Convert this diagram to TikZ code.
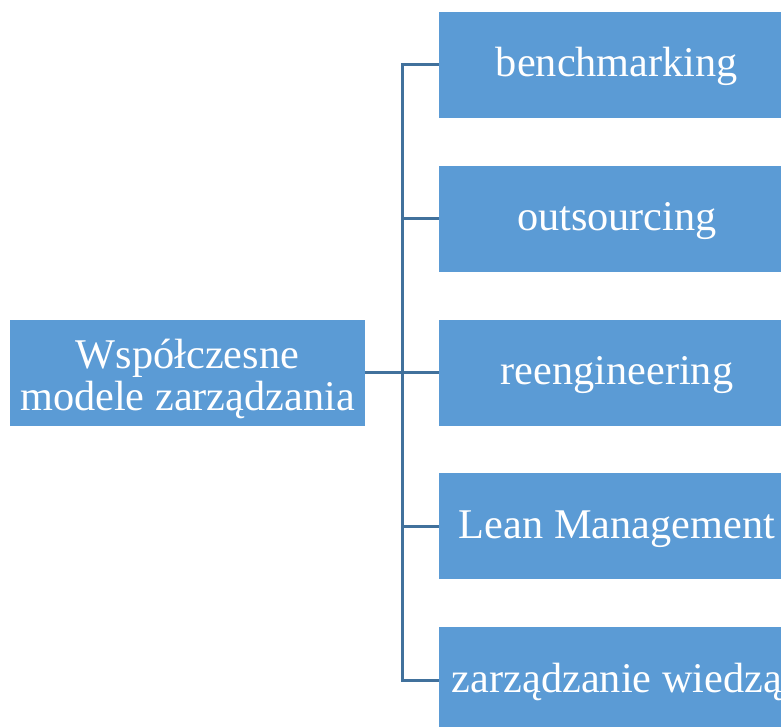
\documentclass[tikz,border=0pt]{standalone}
\usepackage{fontspec}
\setmainfont{Liberation Serif}
\usetikzlibrary{positioning,calc}

\definecolor{boxblue}{HTML}{5B9BD5}
\definecolor{lineblue}{HTML}{41719C}

\begin{document}
\begin{tikzpicture}[x=1pt,y=1pt,
    modelbox/.style={rectangle, fill=boxblue, text=white, align=center, inner sep=0pt,
        minimum width=355pt, minimum height=106pt, text height=29pt, text depth=5.5pt,
        font=\fontsize{42.3}{42}\selectfont},
    branch/.style={draw=lineblue, line width=2.6pt},
    node distance=47.5pt]
        \useasboundingbox (0,0) rectangle (781,-726);
        % Nodes
        \node [modelbox,text height=75pt,text depth=0pt] (models) at (187.5,-372.5) {Współczesne\\modele zarządzania};
        \node [modelbox,right=74pt of models] (reeng) {reengineering};
        \node [modelbox,above=of reeng] (outs) {outsourcing};
        \node [modelbox,above=of outs] (bench) {benchmarking};
        \node [modelbox,below=of reeng] (lean) {Lean Management};
        \node [modelbox,below=of lean] (knowledge) {zarządzanie wiedzą};

        \coordinate (trunk) at ($(models.east)!0.5!(reeng.west)$);

        % Connectors
        \draw [branch] (models.east) -- (reeng.west);
        \draw [branch] (trunk) |- (bench.west);
        \draw [branch] (trunk) |- (outs.west);
        \draw [branch] (trunk) |- (lean.west);
        \draw [branch] (trunk) |- (knowledge.west);
\end{tikzpicture}
\end{document}
